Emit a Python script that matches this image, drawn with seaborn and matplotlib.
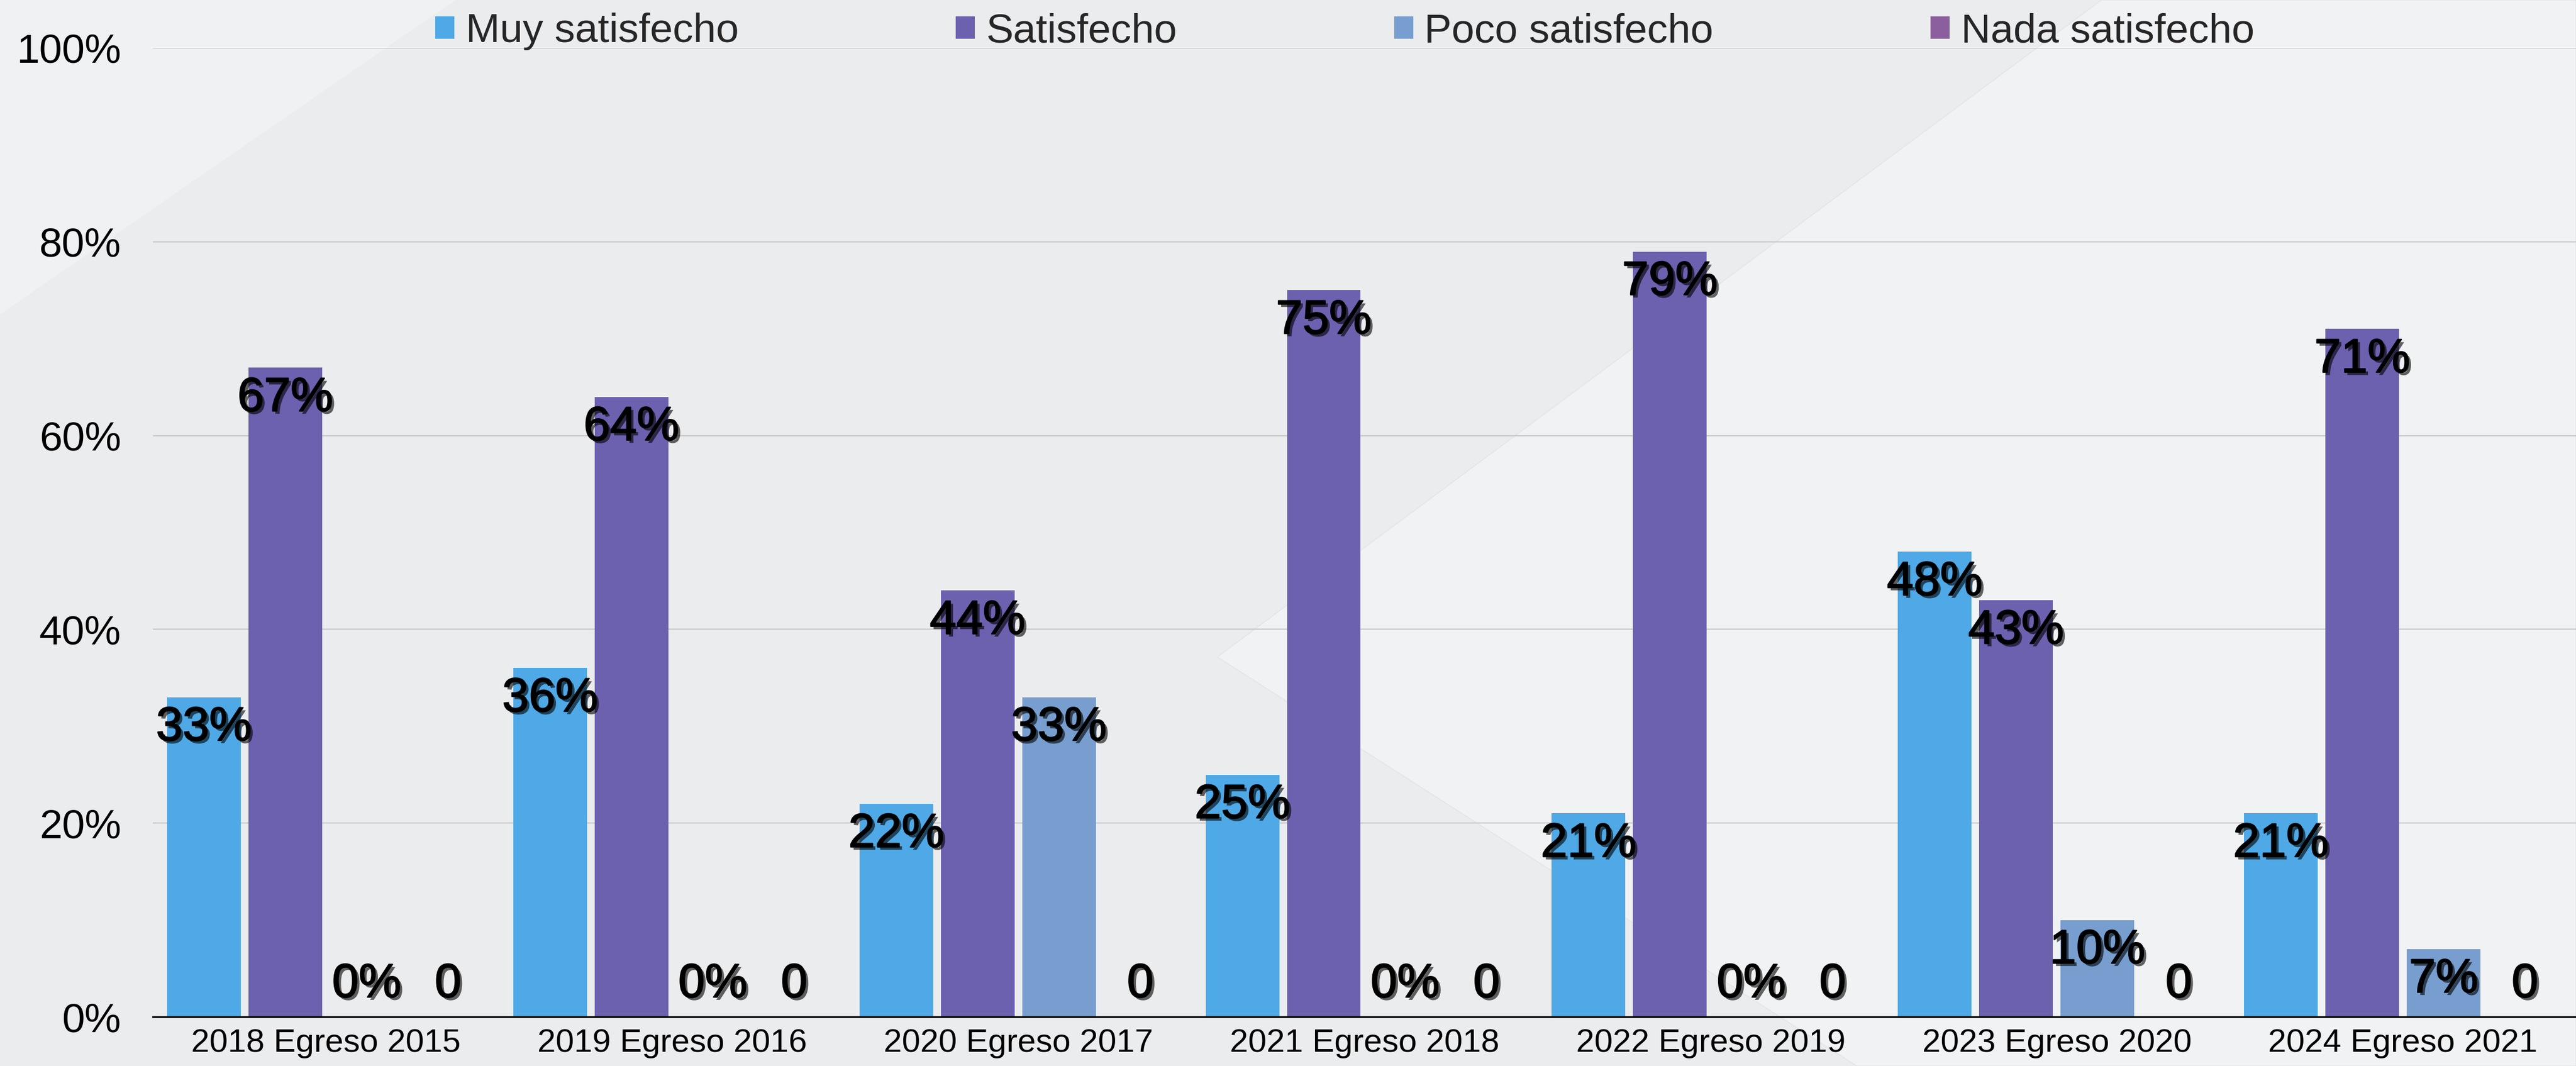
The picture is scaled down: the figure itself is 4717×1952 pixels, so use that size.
import numpy as np
import pandas as pd
import matplotlib
matplotlib.use("Agg")
import matplotlib.pyplot as plt
import matplotlib.patheffects as pe
from matplotlib.patches import Polygon
import seaborn as sns

# ---------------- data ----------------
categories = ["2018 Egreso 2015", "2019 Egreso 2016", "2020 Egreso 2017",
              "2021 Egreso 2018", "2022 Egreso 2019", "2023 Egreso 2020",
              "2024 Egreso 2021"]
series = ["Muy satisfecho", "Satisfecho", "Poco satisfecho", "Nada satisfecho"]
muy_satisfecho = [33, 36, 22, 25, 21, 48, 21]
satisfecho = [67, 64, 44, 75, 79, 43, 71]
poco_satisfecho = [0, 0, 33, 0, 0, 10, 7]
nada_satisfecho = [0, 0, 0, 0, 0, 0, 0]
y_ticks = [0, 20, 40, 60, 80, 100]

colors = ["#4EA9E6", "#6C61AF", "#779ECF", "#8B5E9E"]

values = [muy_satisfecho, satisfecho, poco_satisfecho, nada_satisfecho]
df = pd.DataFrame({
    "Cohorte": [c for _ in series for c in categories],
    "Nivel": [s for s in series for _ in categories],
    "Valor": [v for vals in values for v in vals],
})

# ---------------- style ----------------
sns.set_style("white")
plt.rcParams["font.family"] = ["Liberation Sans", "DejaVu Sans"]

W, H = 4717, 1952
DPI = 300
fig = plt.figure(figsize=(W / DPI, H / DPI), dpi=DPI, facecolor="#EBECEE")

def fc(pts):
    return [(x / W, 1 - y / H) for x, y in pts]

# decorative background panels
fig.patches.append(Polygon(fc([(0, 0), (834, 0), (0, 576)]), closed=True,
                           transform=fig.transFigure, facecolor="#EFF1F3",
                           edgecolor="none", zorder=-5))
fig.patches.append(Polygon(fc([(3848, 0), (W, 0), (W, H), (3400, H), (2229, 1203)]),
                           closed=True, transform=fig.transFigure,
                           facecolor="#F1F2F4", edgecolor="#E4E5E7",
                           linewidth=0.4, zorder=-5))

ax = fig.add_axes([280 / W, 1 - 1862 / H, 1 - 280 / W, (1862 - 88) / H])
ax.set_facecolor("none")

sns.barplot(data=df, x="Cohorte", y="Valor", hue="Nivel",
            order=categories, hue_order=series, palette=colors,
            width=0.94, gap=0.094, saturation=1, errorbar=None,
            linewidth=0, edgecolor="none",
            ax=ax, legend=True)

ax.set_xlim(-0.5, len(categories) - 0.5)
ax.set_ylim(0, 100)
ax.set_yticks(y_ticks)
ax.set_yticklabels([f"{t}%" for t in y_ticks])
ax.yaxis.grid(True, color="#C6C6C8", linewidth=0.5)
ax.xaxis.grid(False)
ax.set_axisbelow(True)
for s in ["left", "right", "top"]:
    ax.spines[s].set_visible(False)
ax.spines["bottom"].set_color("black")
ax.spines["bottom"].set_linewidth(0.8)
ax.spines["bottom"].set_zorder(6)
ax.tick_params(axis="y", length=0, pad=14, labelsize=18, labelcolor="black")
ax.tick_params(axis="x", length=0, pad=5, labelsize=14.5, labelcolor="black")
ax.set_xlabel("")
ax.set_ylabel("")

# data labels
effects = [pe.SimplePatchShadow(offset=(1.2, -1.2), shadow_rgbFace="black", alpha=0.6),
           pe.withStroke(linewidth=0.5, foreground="black")]
for container, name in zip(ax.containers, series):
    for bar in container:
        h = bar.get_height()
        txt = "0" if name == "Nada satisfecho" else f"{h:.0f}%"
        ax.text(bar.get_x() + bar.get_width() / 2, max(h - 3.2, 3.3), txt,
                ha="center", va="center", fontsize=21, color="black",
                path_effects=effects, zorder=5)

# legend
handles, labels = ax.get_legend_handles_labels()
if ax.get_legend() is not None:
    ax.get_legend().remove()
fig.legend(handles, labels, loc="center left",
           bbox_to_anchor=(797 / W, 1 - 58 / H), ncol=4, frameon=False,
           fontsize=18, handlelength=0.47, handleheight=0.47,
           handletextpad=0.27, columnspacing=5.3, borderpad=0,
           borderaxespad=0)

fig.savefig("out.png", dpi=DPI, facecolor=fig.get_facecolor())
